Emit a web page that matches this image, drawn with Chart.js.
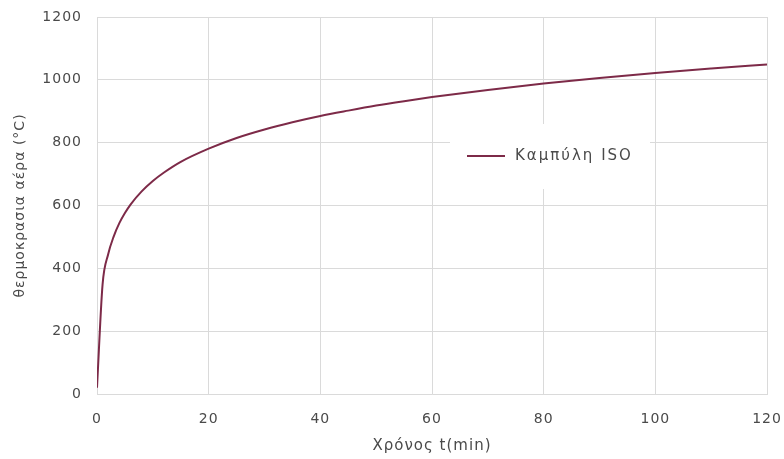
<!DOCTYPE html>
<html>
<head>
<meta charset="utf-8">
<script src="https://cdn.jsdelivr.net/npm/chart.js@4.4.0/dist/chart.umd.min.js"></script>
<style>
  html, body { margin: 0; padding: 0; background: #fff; }
  #wrap { width: 784px; height: 459px; }
</style>
</head>
<body>
<div id="wrap"><canvas id="myChart" width="784" height="459"></canvas></div>
<script>
// values (time in min, air temperature in °C)
let minutes = [0, 1, 2, 3, 4, 5, 6, 8, 10, 12, 15, 20, 25, 30, 35, 40, 45, 50, 55, 60, 70, 80, 90, 100, 110, 120]
let temps   = [20, 349, 445, 502, 544, 576, 603, 645, 678, 705, 739, 781, 815, 842, 865, 885, 902, 918, 932, 945, 968, 988, 1006, 1022, 1036, 1049]
let seriesName = 'Καμπύλη ISO'
let xTitle = 'Χρόνος t(min)'
let yTitle = 'θερμοκρασια αέρα (°C)'

let points = minutes.map((t, i) => ({x: t, y: temps[i]}))

const fontFam = '"DejaVu Sans", Verdana, sans-serif'
const textCol = '#4a4a4a'
const gridCol = '#dadada'

// a bit of spacing, the original lettering is wide
const spacing = {
  id: 'spacing',
  beforeDraw(chart) { chart.ctx.letterSpacing = '1px' }
}

// legend drawn inside the plot, on a white box that hides the grid
const boxLegend = {
  id: 'boxLegend',
  afterDatasetsDraw(chart) {
    const ctx = chart.ctx
    const a = chart.chartArea
    const ds = chart.data.datasets[0]
    const bx = a.left + 353, by = a.top + 107
    ctx.save()
    ctx.fillStyle = '#fff'
    ctx.fillRect(bx, by, 200, 65)
    ctx.strokeStyle = ds.borderColor
    ctx.lineWidth = 2
    ctx.beginPath()
    ctx.moveTo(bx + 17, by + 32)
    ctx.lineTo(bx + 55, by + 32)
    ctx.stroke()
    ctx.fillStyle = textCol
    ctx.font = '15px ' + fontFam
    ctx.letterSpacing = '2px'
    ctx.textBaseline = 'middle'
    ctx.fillText(ds.label, bx + 65, by + 32)
    ctx.restore()
  }
}

new Chart(document.getElementById('myChart'), {
  type: 'line',
  data: {
    datasets: [{
      label: seriesName,
      data: points,
      borderColor: '#7d2a48',
      borderWidth: 2,
      pointRadius: 0,
      cubicInterpolationMode: 'monotone',
      fill: false
    }]
  },
  options: {
    responsive: false,
    animation: false,
    layout: { padding: { left: 0, right: 17, top: 17, bottom: 0 } },
    plugins: { legend: { display: false }, tooltip: { enabled: false } },
    scales: {
      x: {
        type: 'linear',
        min: 0, max: 120,
        afterFit: (s) => { s.height = 65; s.paddingLeft = 0; s.paddingRight = 0 },
        grid: { color: gridCol, drawTicks: false, lineWidth: 1 },
        border: { color: gridCol },
        ticks: { stepSize: 20, color: textCol, padding: 17, maxRotation: 0, font: { family: fontFam, size: 14 }, callback: (v) => String(v) },
        title: { display: true, text: xTitle, color: textCol, padding: { top: 2 }, font: { family: fontFam, size: 15 } }
      },
      y: {
        min: 0, max: 1200,
        afterFit: (s) => { s.width = 97; s.paddingTop = 0; s.paddingBottom = 0 },
        grid: { color: gridCol, drawTicks: false, lineWidth: 1 },
        border: { color: gridCol },
        ticks: { stepSize: 200, color: textCol, padding: 15, font: { family: fontFam, size: 14 }, callback: (v) => String(v) },
        title: { display: true, text: yTitle, color: textCol, padding: { top: 12, bottom: 0 }, font: { family: fontFam, size: 14 } }
      }
    }
  },
  plugins: [spacing, boxLegend]
})
</script>
</body>
</html>
